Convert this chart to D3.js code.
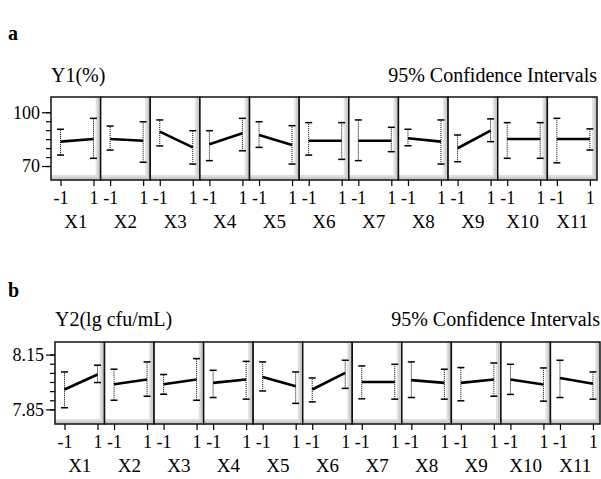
<!DOCTYPE html>
<html>
<head>
<meta charset="utf-8">
<script src="https://cdn.jsdelivr.net/npm/d3@7"></script>
<style>
  body { margin: 0; background: #fff; }
</style>
</head>
<body>
<div class="chart"></div>
<script>
const width = 601;
const height = 479;
const serif = "Liberation Serif";

const factors = ["X1", "X2", "X3", "X4", "X5", "X6", "X7", "X8", "X9", "X10", "X11"];
const levels = [-1, 1];

// panel a : Y1(%)  [ [at -1], [at +1] ]
const y1Mean = [[83.6, 85.1], [85.1, 84.1], [89.2, 80.4], [82.1, 88.3], [87.3, 81.7], [84.1, 84.1],
  [84.1, 84.1], [85.5, 83.6], [79.9, 89.7], [85.1, 85.1], [85.1, 85.1]];
const y1Lo = [[76.1, 74.3], [78.9, 72.1], [81.2, 71.1], [73.0, 78.5], [80.4, 71.1], [76.1, 73.7],
  [73.0, 78.0], [81.3, 71.1], [72.4, 83.6], [74.3, 74.3], [71.8, 78.9]];
const y1Hi = [[90.5, 96.6], [92.3, 94.7], [95.7, 89.7], [89.7, 96.6], [94.7, 92.5], [94.2, 94.2],
  [95.7, 91.6], [90.5, 95.7], [87.3, 96.3], [94.2, 94.2], [96.6, 90.7]];
const y1Ticks = [70, 75, 80, 85, 90, 95, 100];
const y1Labels = [70, 100];

// panel b : Y2(lg cfu/mL)
const y2Mean = [[7.959, 8.041], [7.988, 8.014], [7.988, 8.014], [7.995, 8.014], [8.028, 7.977], [7.959, 8.050],
  [8.000, 8.000], [8.010, 7.995], [7.995, 8.014], [8.014, 7.986], [8.022, 7.990]];
const y2Lo = [[7.859, 7.997], [7.900, 7.922], [7.933, 7.900], [7.915, 7.906], [7.951, 7.883], [7.891, 7.965],
  [7.908, 7.906], [7.915, 7.906], [7.897, 7.922], [7.932, 7.895], [7.915, 7.906]];
const y2Hi = [[8.055, 8.092], [8.070, 8.110], [8.041, 8.128], [8.064, 8.113], [8.110, 8.055], [8.022, 8.119],
  [8.088, 8.097], [8.110, 8.070], [8.079, 8.104], [8.097, 8.077], [8.119, 8.055]];
const y2Ticks = [7.85, 7.90, 7.95, 8.00, 8.05, 8.10, 8.15];
const y2Labels = [7.85, 8.15];

const svg = d3.select(".chart").append("svg")
  .attr("width", width)
  .attr("height", height)
  .style("font-family", serif);

function drawPanel(cfg) {
  const g = svg.append("g");
  const pw = (cfg.right - cfg.left) / factors.length;

  const y = d3.scaleLinear().domain(cfg.domain).range([cfg.bottom, cfg.top]);
  const x = d3.scaleLinear().domain([-1, 1]).range([9.5, 42.5]);
  const fx = d3.scaleBand().domain(factors).range([cfg.left, cfg.right]);

  // letter and headings
  g.append("text").attr("x", 8).attr("y", cfg.letterY)
    .style("font-family", serif).style("font-size", "20px").style("font-weight", "bold").text(cfg.letter);
  g.append("text").attr("x", cfg.left).attr("y", cfg.titleY)
    .style("font-family", serif).style("font-size", "20px").text(cfg.title);
  g.append("text").attr("x", cfg.right).attr("y", cfg.titleY).attr("text-anchor", "end")
    .style("font-family", serif).style("font-size", "20px").text("95% Confidence Intervals");

  // y axis: minor ticks then labels
  const yAxis = d3.axisLeft(y).tickValues(cfg.ticks).tickSize(5).tickFormat("");
  g.append("g").attr("transform", `translate(${cfg.left},0)`).call(yAxis)
    .call(a => a.select(".domain").remove());
  const yMajor = d3.axisLeft(y).tickValues(cfg.labels).tickSize(9).tickPadding(2)
    .tickFormat(d3.format(cfg.fmt));
  g.append("g").attr("transform", `translate(${cfg.left},0)`).call(yMajor)
    .call(a => a.select(".domain").remove())
    .call(a => a.selectAll("text").style("font-family", serif).style("font-size", "18px"));
  g.selectAll(".tick line").attr("stroke", "#000").attr("stroke-width", 1.2);

  factors.forEach((f, i) => {
    const px = fx(f);
    const cell = g.append("g").attr("transform", `translate(${px},0)`);

    // bevelled panel background
    cell.append("rect").attr("x", 0).attr("y", cfg.top).attr("width", pw).attr("height", cfg.bottom - cfg.top)
      .attr("fill", "#fff");
    cell.append("rect").attr("x", pw - 5).attr("y", cfg.top).attr("width", 5).attr("height", cfg.bottom - cfg.top)
      .attr("fill", "#e2e2e2");
    cell.append("rect").attr("x", 0).attr("y", cfg.bottom - 5).attr("width", pw).attr("height", 5)
      .attr("fill", "#dedede");
    cell.append("rect").attr("x", pw - 3).attr("y", cfg.top).attr("width", 3).attr("height", cfg.bottom - cfg.top)
      .attr("fill", "#cccccc");
    cell.append("rect").attr("x", 0).attr("y", cfg.bottom - 3).attr("width", pw).attr("height", 3)
      .attr("fill", "#cccccc");

    // error bars
    levels.forEach((lv, j) => {
      const cx = x(lv);
      cell.append("line").attr("x1", cx).attr("x2", cx)
        .attr("y1", y(cfg.lo[i][j])).attr("y2", y(cfg.hi[i][j]))
        .attr("stroke", "#000").attr("stroke-width", 1).attr("stroke-dasharray", "1,1");
      [cfg.lo[i][j], cfg.hi[i][j]].forEach(v => {
        cell.append("line").attr("x1", cx - 3.5).attr("x2", cx + 3.5)
          .attr("y1", y(v)).attr("y2", y(v))
          .attr("stroke", "#000").attr("stroke-width", 1.5);
      });
    });

    // mean line
    cell.append("line")
      .attr("x1", x(-1)).attr("x2", x(1))
      .attr("y1", y(cfg.mean[i][0])).attr("y2", y(cfg.mean[i][1]))
      .attr("stroke", "#000").attr("stroke-width", 2.6);

    // border
    cell.append("rect").attr("x", 0).attr("y", cfg.top).attr("width", pw).attr("height", cfg.bottom - cfg.top)
      .attr("fill", "none").attr("stroke", "#111").attr("stroke-width", 1.5);

    // x axis
    const xAxis = d3.axisBottom(x).tickValues(levels).tickSize(6).tickPadding(5).tickFormat(d => String(d));
    cell.append("g").attr("transform", `translate(0,${cfg.bottom})`).call(xAxis)
      .call(a => a.select(".domain").remove())
      .call(a => a.selectAll("text").style("font-family", serif).style("font-size", "18px"))
      .call(a => a.selectAll("line").attr("stroke-width", 1.2));

    cell.append("text").attr("x", pw / 2).attr("y", cfg.bottom + 48)
      .attr("text-anchor", "middle").style("font-family", serif).style("font-size", "19px").text(f);
  });
}

drawPanel({
  letter: "a", letterY: 40, title: "Y1(%)", titleY: 82,
  left: 51, right: 597, top: 97, bottom: 180,
  domain: [62.2, 108.5], ticks: y1Ticks, labels: y1Labels, fmt: "d",
  mean: y1Mean, lo: y1Lo, hi: y1Hi
});

drawPanel({
  letter: "b", letterY: 297, title: "Y2(lg cfu/mL)", titleY: 326,
  left: 55, right: 600, top: 342, bottom: 424,
  domain: [7.77, 8.219], ticks: y2Ticks, labels: y2Labels, fmt: ".2f",
  mean: y2Mean, lo: y2Lo, hi: y2Hi
});
</script>
</body>
</html>
